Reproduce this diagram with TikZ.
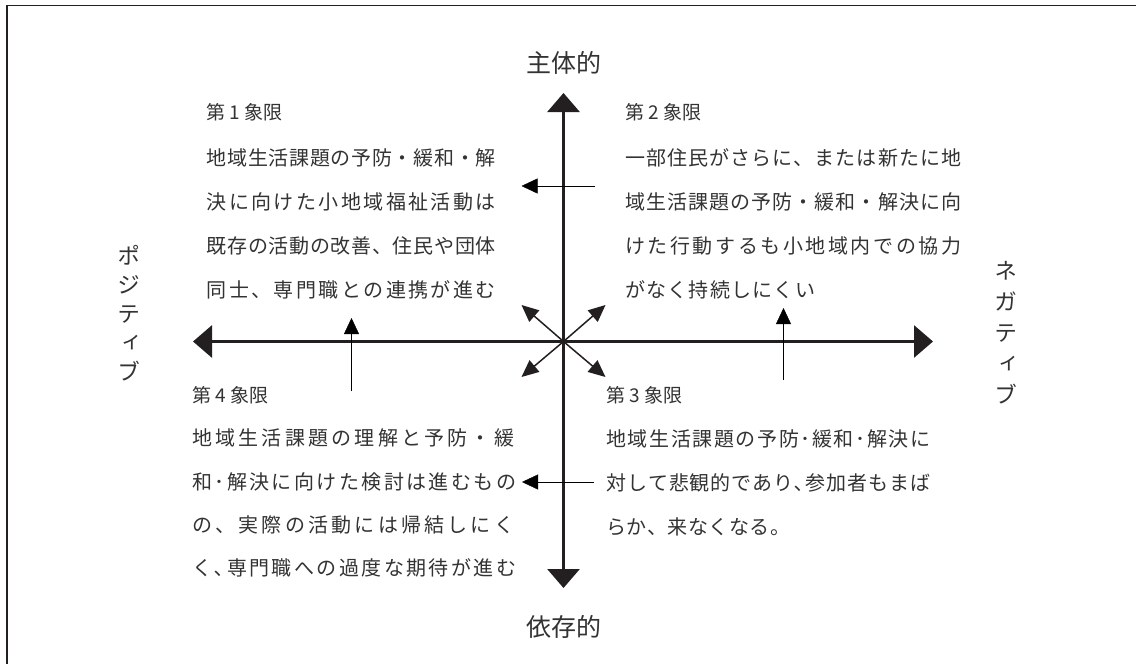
\documentclass[tikz,border=0pt]{standalone}
\usepackage{fontspec}
\usetikzlibrary{arrows.meta}
\newfontfamily\jp{Noto Sans CJK JP}
\newfontfamily\jpv[RawFeature={+vert}]{Noto Sans CJK JP}
\definecolor{ink}{HTML}{231F20}
\definecolor{txt}{HTML}{333333}
\definecolor{thin}{HTML}{4A4A4A}
% spread the characters of one line over a fixed width
\def\jsp#1#2{#1\ifx\relax#2\else\hfill\expandafter\jsp\expandafter#2\fi}
\newcommand\jline[2]{\makebox[#1][s]{\jsp#2\relax}}
\begin{document}
\begin{tikzpicture}[x=1pt,y=-1pt,
  frame/.style={line width=1.5pt, ink},
  axis/.style={line width=3pt, ink, {Triangle[width=32pt,length=19pt]}-{Triangle[width=32pt,length=19pt]}},
  diag/.style={line width=1.5pt, ink, -{Triangle[width=15pt,length=17pt]}},
  shortarr/.style={line width=1.3pt, thin, -{Triangle[width=15pt,length=16pt]}},
  axlabel/.style={inner sep=0pt, text=txt, font=\jp\fontsize{25}{30}\selectfont},
  vlabel/.style={inner sep=0pt, text=txt, align=center},
  qtitle/.style={anchor=west, inner sep=0pt, text=txt, font=\jp\fontsize{19}{24}\selectfont},
  qline/.style={anchor=west, inner sep=0pt, text=txt, font=\jp\fontsize{20}{24}\selectfont}]
\useasboundingbox (0,0) rectangle (1136,664);
% frame
\draw[frame] (7,664) -- (7,5.5) -- (1136,5.5);
% axes
\coordinate (top) at (563.5,93);
\coordinate (bot) at (563.5,588);
\coordinate (lft) at (193,341.5);
\coordinate (rgt) at (933,341.5);
\coordinate (O) at (563.5,341.5);
\draw[axis] (lft) -- (rgt);
\draw[axis] (top) -- (bot);
% diagonal arrows
\coordinate (dUL) at (521.5,305);
\coordinate (dUR) at (605.5,305);
\coordinate (dLL) at (521.5,377);
\coordinate (dLR) at (605.5,377);
\foreach \t in {dUL,dUR,dLL,dLR} \draw[diag] (O) -- (\t);
% axis labels
\node[axlabel] (lTop) at (563.5,63) {主体的};
\node[axlabel] (lBot) at (563.5,627) {依存的};
\node[vlabel, font=\jpv\fontsize{23}{29}\selectfont] (lPos) at (129,313) {ポ\\ジ\\テ\\ィ\\ブ};
\node[vlabel, font=\jpv\fontsize{23}{31}\selectfont] (lNeg) at (1006,333) {ネ\\ガ\\テ\\ィ\\ブ};
% quadrant 1
\node[qtitle] (q1t) at (206.5,112) {第 1 象限};
\node[qline] (q1a) at (206.5,158) {\jline{289pt}{地域生活課題の予防・緩和・解}};
\node[qline] (q1b) at (206.5,202) {\jline{289pt}{決に向けた小地域福祉活動は}};
\node[qline] (q1c) at (206.5,246) {\jline{289pt}{既存の活動の改善、住民や団体}};
\node[qline] (q1d) at (206.5,290) {\jline{289pt}{同士、専門職との連携が進む}};
% quadrant 2
\node[qtitle] (q2t) at (625,112) {第 2 象限};
\node[qline] (q2a) at (625,158) {\jline{336pt}{一部住民がさらに、または新たに地}};
\node[qline] (q2b) at (625,202) {\jline{336pt}{域生活課題の予防・緩和・解決に向}};
\node[qline] (q2c) at (625,246) {\jline{336pt}{けた行動するも小地域内での協力}};
\node[qline] (q2d) at (625,290) {\jline{190pt}{がなく持続しにくい}};
% quadrant 4
\node[qtitle] (q4t) at (192,395) {第 4 象限};
\node[qline] (q4a) at (192,438) {\jline{322pt}{地域生活課題の理解と予防・緩}};
\node[qline] (q4b) at (192,482) {\jline{324pt}{和･解決に向けた検討は進むもの}};
\node[qline] (q4c) at (192,525) {\jline{322pt}{の、実際の活動には帰結しにく}};
\node[qline] (q4d) at (192,568) {\jline{324pt}{く､専門職への過度な期待が進む}};
% quadrant 3
\node[qtitle] (q3t) at (606,395) {第 3 象限};
\node[qline] (q3a) at (606,439) {\jline{324pt}{地域生活課題の予防･緩和･解決に}};
\node[qline] (q3b) at (606,483) {\jline{324pt}{対して悲観的であり､参加者もまば}};
\node[qline] (q3c) at (606,527) {\jline{184pt}{らか、来なくなる。}};
% short arrows
\coordinate (s1a) at (595,186); \coordinate (s1b) at (521.5,186);
\coordinate (s2a) at (783.5,380); \coordinate (s2b) at (783.5,308);
\coordinate (s3a) at (594,482); \coordinate (s3b) at (522,482);
\coordinate (s4a) at (351.5,391); \coordinate (s4b) at (351.5,318);
\draw[shortarr] (s1a) -- (s1b);
\draw[shortarr] (s2a) -- (s2b);
\draw[shortarr] (s3a) -- (s3b);
\draw[shortarr] (s4a) -- (s4b);
\end{tikzpicture}
\end{document}
